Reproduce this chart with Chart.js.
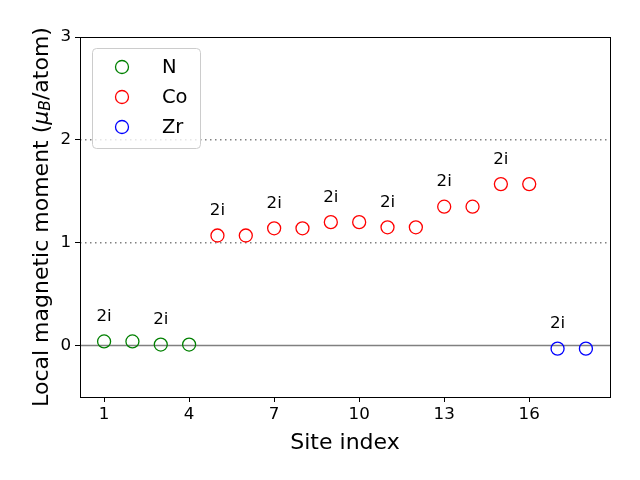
<!doctype html>
<html lang="en">
<head>
<meta charset="utf-8">
<title>Local magnetic moment</title>
<style>
  * { margin: 0; padding: 0; }
  body { background: #fff; }
  .cw { position: relative; width: 640px; height: 480px; }
</style>
</head>
<body>
<div class="cw"><canvas id="moment"></canvas></div>
<script src="https://cdn.jsdelivr.net/npm/chart.js@4.4.1/dist/chart.umd.min.js"></script>
<script>
  // site indices and moments (mu_B/atom)
  const nSites = [1, 2, 3, 4];
  const nMoments = [0.04, 0.04, 0.01, 0.01];
  const coSites = [5, 6, 7, 8, 9, 10, 11, 12, 13, 14, 15, 16];
  const coMoments = [1.07, 1.07, 1.14, 1.14, 1.20, 1.20, 1.15, 1.15, 1.35, 1.35, 1.57, 1.57];
  const zrSites = [17, 18];
  const zrMoments = [-0.03, -0.03];
  const wyckoffSites = [1, 3, 5, 7, 9, 11, 13, 15, 17];
  const wyckoffLabel = "2i";
  const xTicks = [1, 4, 7, 10, 13, 16];
  const yTicks = [0, 1, 2, 3];
  const dottedAt = [1, 2];

  const FONT = "'DejaVu Sans', sans-serif";
  const pts = (xs, ys) => xs.map((x, i) => ({ x, y: ys[i] }));
  const allPts = pts(nSites, nMoments).concat(pts(coSites, coMoments), pts(zrSites, zrMoments));
  const ser = (label, data, color) => ({
    label, data, borderColor: color, backgroundColor: "rgba(0,0,0,0)",
    pointRadius: 6.5, pointHoverRadius: 6.5, pointBorderWidth: 1.3, showLine: false
  });

  const deco = {
    id: "deco",
    beforeDatasetsDraw(chart) {
      const { ctx, chartArea: a, scales: { y } } = chart;
      ctx.save();
      ctx.strokeStyle = "#808080";
      ctx.lineWidth = 1.5;
      dottedAt.forEach(v => {
        ctx.setLineDash([1.5, 3.5]);
        ctx.beginPath(); ctx.moveTo(a.left, y.getPixelForValue(v)); ctx.lineTo(a.right, y.getPixelForValue(v)); ctx.stroke();
      });
      ctx.setLineDash([]);
      ctx.beginPath(); ctx.moveTo(a.left, y.getPixelForValue(0)); ctx.lineTo(a.right, y.getPixelForValue(0)); ctx.stroke();
      ctx.restore();
    },
    afterDraw(chart) {
      const { ctx, chartArea: a, scales: { x, y } } = chart;
      ctx.save();
      // frame
      ctx.strokeStyle = "#000"; ctx.lineWidth = 1;
      ctx.strokeRect(Math.round(a.left) + 0.5, Math.round(a.top) + 0.5, Math.round(a.right - a.left), Math.round(a.bottom - a.top));
      // 2i labels
      ctx.fillStyle = "#000";
      ctx.font = "16.7px " + FONT;
      ctx.textAlign = "center"; ctx.textBaseline = "alphabetic";
      wyckoffSites.forEach(s => {
        const p = allPts.find(q => q.x === s);
        ctx.fillText(wyckoffLabel, x.getPixelForValue(s), y.getPixelForValue(p.y + 0.2));
      });
      // y title with subscript
      ctx.translate(40, (a.top + a.bottom) / 2);
      ctx.rotate(-Math.PI / 2);
      const parts = [["Local magnetic moment (", "22px " + FONT, 0], ["\u03bc", "italic 22px " + FONT, 0],
        ["B", "italic 15.5px " + FONT, 4], ["/atom)", "22px " + FONT, 0]];
      let w = 0;
      parts.forEach(p => { ctx.font = p[1]; w += ctx.measureText(p[0]).width; });
      let cx = -w / 2;
      ctx.textAlign = "left"; ctx.textBaseline = "middle";
      parts.forEach(p => { ctx.font = p[1]; ctx.fillText(p[0], cx, p[2] + 2); cx += ctx.measureText(p[0]).width; });
      ctx.setTransform(1, 0, 0, 1, 0, 0);
      // legend
      const lx = 92, ly = 48, lw = 108, lh = 100, r = 4;
      ctx.fillStyle = "rgba(255,255,255,0.8)";
      ctx.strokeStyle = "#cccccc"; ctx.lineWidth = 1;
      ctx.beginPath(); ctx.roundRect(lx + 0.5, ly + 0.5, lw, lh, r); ctx.fill(); ctx.stroke();
      ctx.font = "19.5px " + FONT; ctx.textBaseline = "middle"; ctx.textAlign = "left";
      chart.data.datasets.forEach((ds, i) => {
        const ey = 67 + i * 30;
        ctx.strokeStyle = ds.borderColor; ctx.lineWidth = 1.3;
        ctx.beginPath(); ctx.arc(122, ey, 6.5, 0, Math.PI * 2); ctx.stroke();
        ctx.fillStyle = "#000";
        ctx.fillText(ds.label, 162, ey + 1);
      });
      ctx.restore();
    }
  };

  new Chart(document.getElementById("moment"), {
    type: "scatter",
    data: { datasets: [
      ser("N", pts(nSites, nMoments), "#008000"),
      ser("Co", pts(coSites, coMoments), "#ff0000"),
      ser("Zr", pts(zrSites, zrMoments), "#0000ff") ] },
    options: {
      responsive: true, maintainAspectRatio: false, animation: false,
      layout: { padding: { top: 37, right: 30, left: 0, bottom: 24 } },
      plugins: { legend: { display: false }, tooltip: { enabled: false } },
      scales: {
        x: {
          min: 0.15, max: 18.85,
          afterBuildTicks: s => { s.ticks = xTicks.map(v => ({ value: v })); },
          afterFit: s => { s.height = 59; },
          grid: { drawOnChartArea: false, tickLength: 5, color: "#000" },
          border: { color: "#000" },
          ticks: { color: "#000", font: { family: FONT, size: 16.7 }, padding: 3, maxRotation: 0 },
          title: { display: true, text: "Site index", color: "#000", font: { family: FONT, size: 22 }, padding: { top: 2, bottom: 0 } }
        },
        y: {
          min: -0.5, max: 3,
          afterBuildTicks: s => { s.ticks = yTicks.map(v => ({ value: v })); },
          afterFit: s => { s.width = 80; },
          grid: { drawOnChartArea: false, tickLength: 5, color: "#000" },
          border: { color: "#000" },
          ticks: { color: "#000", font: { family: FONT, size: 16.7 }, padding: 4 }
        }
      }
    },
    plugins: [deco]
  });
</script>
</body>
</html>
